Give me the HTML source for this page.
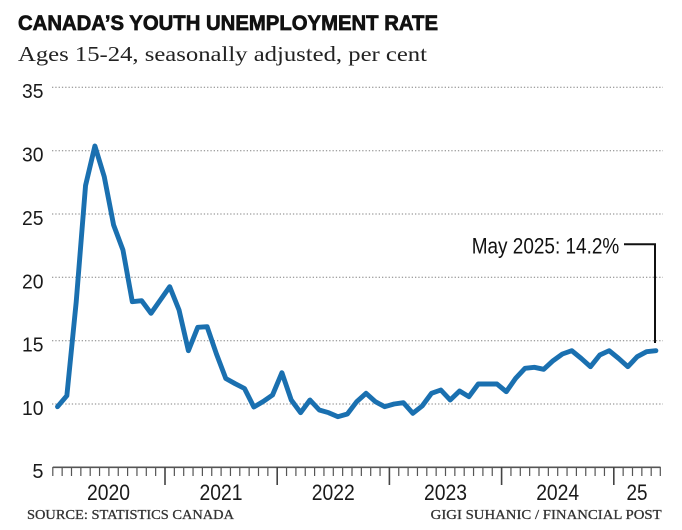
<!DOCTYPE html>
<html>
<head>
<meta charset="utf-8">
<style>
  html, body { margin: 0; padding: 0; background: #ffffff; }
  body { width: 682px; height: 530px; overflow: hidden; }
  svg { display: block; }
</style>
</head>
<body>
<svg width="682" height="530" viewBox="0 0 682 530" xmlns="http://www.w3.org/2000/svg">
  <rect x="0" y="0" width="682" height="530" fill="#ffffff"/>

  <!-- Title -->
  <text x="18" y="30" font-family="'Liberation Sans', sans-serif" font-weight="bold" font-size="21" fill="#111" stroke="#111" stroke-width="0.7" textLength="420" lengthAdjust="spacingAndGlyphs">CANADA’S YOUTH UNEMPLOYMENT RATE</text>
  <text x="18" y="61" font-family="'Liberation Serif', serif" font-size="21" fill="#222" textLength="409" lengthAdjust="spacingAndGlyphs">Ages 15-24, seasonally adjusted, per cent</text>

  <!-- Gridlines -->
  <g stroke="#808080" stroke-width="1" stroke-dasharray="1.3 2">
    <line x1="52" y1="87.3" x2="663" y2="87.3"/>
    <line x1="52" y1="150.7" x2="663" y2="150.7"/>
    <line x1="52" y1="214" x2="663" y2="214"/>
    <line x1="52" y1="277.3" x2="663" y2="277.3"/>
    <line x1="52" y1="340.7" x2="663" y2="340.7"/>
    <line x1="52" y1="404" x2="663" y2="404"/>
  </g>

  <!-- Y labels -->
  <g font-family="'Liberation Sans', sans-serif" font-size="20" fill="#1a1a1a" text-anchor="end">
    <text x="43.5" y="98" textLength="21.5" lengthAdjust="spacingAndGlyphs">35</text>
    <text x="43.5" y="161.5" textLength="21.5" lengthAdjust="spacingAndGlyphs">30</text>
    <text x="43.5" y="225" textLength="21.5" lengthAdjust="spacingAndGlyphs">25</text>
    <text x="43.5" y="288.3" textLength="21.5" lengthAdjust="spacingAndGlyphs">20</text>
    <text x="43.5" y="351.5" textLength="21.5" lengthAdjust="spacingAndGlyphs">15</text>
    <text x="43.5" y="415" textLength="21.5" lengthAdjust="spacingAndGlyphs">10</text>
    <text x="43.5" y="478">5</text>
  </g>

  <!-- X axis -->
  <line x1="52.8" y1="467.3" x2="660.5" y2="467.3" stroke="#555" stroke-width="1.6"/>
  <path stroke="#555" stroke-width="1.2" fill="none" d="
    M52.8 467V476 M62.15 467V476 M71.5 467V476 M80.85 467V476 M90.2 467V476 M99.55 467V476
    M108.9 467V476 M118.25 467V476 M127.6 467V476 M136.95 467V476 M146.3 467V476 M155.65 467V476
    M174.35 467V476 M183.7 467V476 M193.05 467V476 M202.4 467V476 M211.75 467V476
    M221.1 467V476 M230.45 467V476 M239.8 467V476 M249.15 467V476 M258.5 467V476 M267.85 467V476
    M286.55 467V476 M295.9 467V476 M305.25 467V476 M314.6 467V476 M323.95 467V476
    M333.3 467V476 M342.65 467V476 M352 467V476 M361.35 467V476 M370.7 467V476 M380.05 467V476
    M398.75 467V476 M408.1 467V476 M417.45 467V476 M426.8 467V476 M436.15 467V476
    M445.5 467V476 M454.85 467V476 M464.2 467V476 M473.55 467V476 M482.9 467V476 M492.25 467V476
    M510.95 467V476 M520.3 467V476 M529.65 467V476 M539 467V476 M548.35 467V476
    M557.7 467V476 M567.05 467V476 M576.4 467V476 M585.75 467V476 M595.1 467V476 M604.45 467V476
    M623.15 467V476 M632.5 467V476 M641.85 467V476 M651.2 467V476 M660.3 467V476
  "/>
  <path stroke="#444" stroke-width="1.6" fill="none" d="
    M165 467V485 M277.2 467V485 M389.4 467V485 M501.6 467V485 M613.8 467V485
  "/>

  <!-- Year labels -->
  <g font-family="'Liberation Sans', sans-serif" font-size="22" fill="#1a1a1a" text-anchor="middle">
    <text x="108.5" y="500" textLength="43" lengthAdjust="spacingAndGlyphs">2020</text>
    <text x="221" y="500" textLength="43" lengthAdjust="spacingAndGlyphs">2021</text>
    <text x="333.3" y="500" textLength="43" lengthAdjust="spacingAndGlyphs">2022</text>
    <text x="445.5" y="500" textLength="43" lengthAdjust="spacingAndGlyphs">2023</text>
    <text x="557.7" y="500" textLength="43" lengthAdjust="spacingAndGlyphs">2024</text>
    <text x="637" y="500" textLength="21" lengthAdjust="spacingAndGlyphs">25</text>
  </g>

  <!-- Data line -->
  <polyline fill="none" stroke="#1a70b0" stroke-width="4.9" stroke-linejoin="round" stroke-linecap="round" points="
    57.5,406.7 66.85,395.7 76.2,302 85.55,185.5 94.9,146 104.25,176.7 113.6,225 122.95,250
    132.3,301.7 141.65,300.7 151,313.3 160.35,300 169.7,286.7 179.05,310 188.4,350.7 197.75,327.3
    207.1,326.7 216.45,354 225.8,378.5 235.15,383.7 244.5,388.5 253.85,407 263.2,401.5 272.55,395
    281.9,372.7 291.25,400 300.6,412.7 309.95,400 319.3,410 328.65,412.7 338,416.7 347.35,414
    356.7,401.7 366.05,393.3 375.4,401.7 384.75,406.7 394.1,404 403.45,402.7 412.8,413.3 422.15,406
    431.5,393.3 440.85,390 450.2,400 459.55,391 468.9,396.7 478.25,384 487.6,384 496.95,384
    506.3,391.7 515.65,378.3 525,368.3 534.35,367.3 543.7,369.3 553.05,360.7 562.4,354 571.75,350.7
    581.1,358.3 590.45,366.7 599.8,355 609.15,350.7 618.5,358.3 627.85,366.7 637.2,356.7 646.55,351.7
    655.9,350.7
  "/>

  <!-- Annotation -->
  <polyline fill="none" stroke="#111" stroke-width="2" points="624,244.3 655,244.3 655,343"/>
  <text x="471.7" y="253.3" font-family="'Liberation Sans', sans-serif" font-size="22" fill="#111" textLength="147.6" lengthAdjust="spacingAndGlyphs">May 2025: 14.2%</text>

  <!-- Footer -->
  <text x="27" y="519" font-family="'Liberation Serif', serif" font-size="14" fill="#333" stroke="#333" stroke-width="0.3" textLength="207" lengthAdjust="spacingAndGlyphs">SOURCE: STATISTICS CANADA</text>
  <text x="430.7" y="519" font-family="'Liberation Serif', serif" font-size="14" fill="#333" stroke="#333" stroke-width="0.3" textLength="231" lengthAdjust="spacingAndGlyphs">GIGI SUHANIC / FINANCIAL POST</text>
</svg>
</body>
</html>
